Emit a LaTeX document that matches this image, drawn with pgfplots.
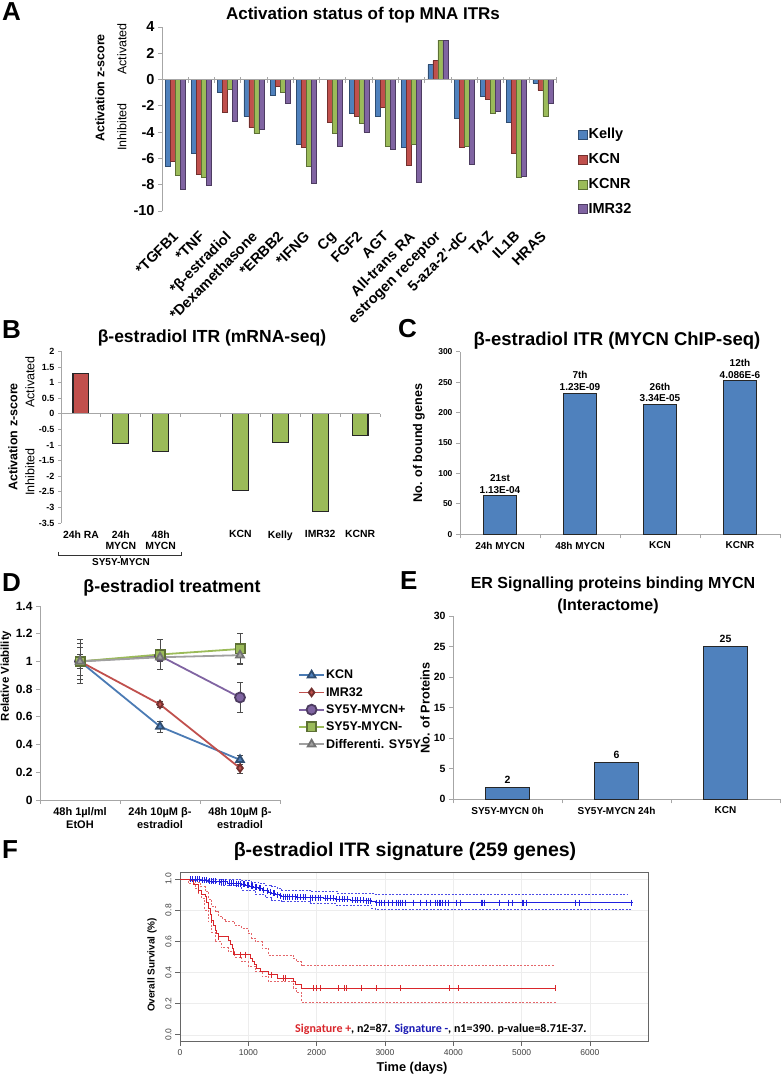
\documentclass[border=0pt]{standalone}
\usepackage{pgfplots}
\usepackage{pgfplotstable}
\pgfplotsset{compat=1.18}
\usepackage{fontspec}
\setmainfont{Liberation Sans}
\newfontfamily\calib{Carlito}
\definecolor{kelly}{HTML}{4F81BD}
\definecolor{kcn}{HTML}{C0504D}
\definecolor{kcnr}{HTML}{9BBB59}
\definecolor{imr}{HTML}{8064A2}
\definecolor{axg}{HTML}{A6A6A6}
\definecolor{dgray}{HTML}{A0A0A0}
\definecolor{kmred}{HTML}{D9262B}
\definecolor{kmblue}{HTML}{2020E0}
\newcommand\fs[1]{\fontsize{#1}{#1}\selectfont}
\pgfplotsset{/pgf/number format/assume math mode=true, /pgf/number format/1000 sep={},
  xl/.style={scale only axis, anchor=south west, clip=false,
    axis line style={draw=axg, line width=0.8pt},
    tick style={draw=axg, line width=0.8pt},
    tick align=outside, major tick length=4pt, minor tick length=4pt,
    axis y line*=left, axis x line*=bottom},
  exbar/.style={draw=black!85, line width=1.1pt, bar shift=0pt},
  dline/.style={line width=1.8pt, mark options={line width=0.6pt},
    error bars/y dir=both, error bars/y explicit,
    error bars/error bar style={black!70, line width=0.6pt},
    error bars/error mark options={rotate=90, black!70, mark size=3pt, line width=0.6pt}}}

% panel A: activation z-scores
\pgfplotstableread{
x   kelly  kcn   kcnr  imr
0  -6.57 -6.20 -7.30 -8.36
1  -5.58 -7.17 -7.40 -8.03
2  -0.96 -2.50 -0.70 -3.18
3  -2.80 -3.66 -4.07 -3.81
4  -1.16 -0.53 -0.96 -1.79
5  -4.90 -5.18 -6.60 -7.90
6   0.00 -3.26 -4.07 -5.05
7  -2.60 -2.78 -3.36 -3.99
8  -2.78 -2.10 -5.05 -5.28
9  -5.18 -6.50 -4.95 -7.78
10  1.14  1.44  3.00  3.00
11 -2.98 -5.15 -5.08 -6.44
12 -1.26 -1.52 -2.60 -2.42
13 -3.23 -5.60 -7.42 -7.37
14 -0.25 -0.83 -2.80 -1.77
}\dataA

% panel F: Kaplan-Meier steps (days, survival)
\pgfplotstableread{
t s
0 1
150 0.988
200 0.965
268 0.93
320 0.90
366 0.887
390 0.85
415 0.812
440 0.775
464 0.737
490 0.70
512 0.673
540 0.65
561 0.63
708 0.607
732 0.577
760 0.553
781 0.53
800 0.515
1030 0.49
1060 0.47
1090 0.45
1122 0.427
1171 0.406
1293 0.385
1420 0.363
1659 0.345
1684 0.325
1781 0.30
5500 0.30
}\redkm
\pgfplotstableread{
t s
0 1
120 0.99
220 0.98
300 0.95
366 0.92
420 0.87
464 0.823
520 0.79
561 0.76
620 0.74
659 0.726
800 0.70
903 0.684
1000 0.65
1050 0.62
1098 0.598
1200 0.555
1293 0.513
1659 0.49
1700 0.47
1781 0.444
5480 0.444
}\redup
\pgfplotstableread{
t s
0 1
122 0.97
220 0.94
270 0.91
317 0.876
360 0.80
415 0.726
460 0.66
512 0.598
600 0.56
708 0.534
800 0.50
903 0.47
1000 0.44
1098 0.406
1200 0.375
1293 0.342
1659 0.30
1700 0.27
1781 0.21
5500 0.21
}\redlo
\pgfplotstableread{
t s
0 1
150 0.997
300 0.993
415 0.987
550 0.982
700 0.975
800 0.97
903 0.966
960 0.96
1020 0.955
1080 0.948
1146 0.94
1200 0.93
1250 0.925
1300 0.915
1342 0.908
1400 0.898
1450 0.892
1488 0.887
1700 0.883
1879 0.88
2100 0.875
2270 0.87
2500 0.865
2700 0.862
2806 0.859
2855 0.848
6632 0.848
}\bluekm
\pgfplotstableread{
t s
0 1
600 0.997
900 0.99
1050 0.982
1150 0.972
1250 0.962
1342 0.951
1420 0.94
1488 0.93
1900 0.92
2300 0.91
2850 0.902
6550 0.902
}\blueup
\pgfplotstableread{
t s
0 1
200 0.99
400 0.98
600 0.962
903 0.929
1100 0.90
1250 0.88
1342 0.865
1488 0.855
1900 0.845
2270 0.833
2806 0.812
2855 0.805
6600 0.805
}\bluelo

\begin{document}
\begin{tikzpicture}
\useasboundingbox (0,0) rectangle (781pt,1075pt);

% ---------------- A
\begin{axis}[xl, at={(162pt,864pt)}, width=394pt, height=184pt,
  xmin=-0.5, xmax=14.5, ymin=-10, ymax=4, ytick={-10,-8,...,4},
  x axis line style={draw=none}, major x tick style={draw=none},
  xtick={0,...,14},
  xticklabels={*TGFB1,*TNF,*β-estradiol,*Dexamethasone,*ERBB2,*IFNG,Cg,FGF2,AGT,All-trans RA,estrogen receptor,5-aza-2'-dC,TAZ,IL1B,HRAS},
  xticklabel style={rotate=45, anchor=north east, font=\bfseries\fs{14.5}, inner sep=0pt, xshift=-13pt, yshift=-8.5pt},
  yticklabel style={font=\bfseries\fs{14.5}},
  ybar=0pt, bar width=0.19,
  legend style={draw=none, fill=none, at={(1.048,0.467)}, anchor=north west,
    font=\bfseries\fs{14.5}, row sep=11.3pt, nodes={inner sep=1pt}},
  legend cell align=left,
  legend image code/.code={\draw[#1] (0pt,-4.5pt) rectangle (9pt,4.5pt);}]
\addplot[fill=kelly, draw=kelly!60!black, line width=0.5pt] table[x=x,y=kelly]{\dataA};
\addplot[fill=kcn, draw=kcn!60!black, line width=0.5pt] table[x=x,y=kcn]{\dataA};
\addplot[fill=kcnr, draw=kcnr!60!black, line width=0.5pt] table[x=x,y=kcnr]{\dataA};
\addplot[fill=imr, draw=imr!60!black, line width=0.5pt] table[x=x,y=imr]{\dataA};
\legend{Kelly,KCN,KCNR,IMR32}
\draw[axg, line width=0.8pt] (axis cs:-0.5,0) -- (axis cs:14.5,0);
\pgfplotsinvokeforeach{-0.5,0.5,...,14.5}{\draw[axg, line width=0.8pt] (axis cs:#1,0) ++(0pt,-3pt) -- ++(0pt,6pt);}
\end{axis}

% ---------------- B
\begin{axis}[xl, at={(61pt,552pt)}, width=319pt, height=171.6pt,
  xmin=-0.5, xmax=7.5, ymin=-3.5, ymax=2, ytick={-3.5,-3,...,2},
  x axis line style={draw=none}, major x tick style={draw=none},
  xtick={0,...,7}, xticklabels={24h RA,{24h\\MYCN},{48h\\MYCN},{},KCN,Kelly,IMR32,KCNR},
  xticklabel style={align=center, font=\bfseries\fontsize{10.4}{11}\selectfont, anchor=north, yshift=-1pt},
  yticklabel style={font=\bfseries\fs{9}}, major tick length=3pt,
  ybar, bar width=0.4]
\addplot[fill=kcn, exbar] coordinates {(0,1.28)};
\addplot[fill=kcnr, exbar] coordinates {(1,-0.96) (2,-1.21) (4,-2.46) (5,-0.91) (6,-3.12) (7,-0.70)};
\draw[axg, line width=0.8pt] (axis cs:-0.5,0) -- (axis cs:7.5,0);
\pgfplotsinvokeforeach{-0.5,0.5,...,7.5}{\draw[axg, line width=0.8pt] (axis cs:#1,0) -- ++(0pt,-3pt);}
\end{axis}

% ---------------- C
\begin{axis}[xl, at={(460pt,540.7pt)}, width=320pt, height=182.6pt,
  xmin=-0.5, xmax=3.5, ymin=0, ymax=300, ytick={0,50,...,300},
  xtick={0,...,3}, xticklabels={24h MYCN,48h MYCN,KCN,KCNR}, major x tick style={draw=none},
  minor xtick={-0.5,0.5,...,3.5},
  xticklabel style={font=\bfseries\fs{10}},
  yticklabel style={font=\bfseries\fs{8.5}},
  ybar, bar width=0.41,
  nodes near coords, point meta=explicit symbolic,
  every node near coord/.append style={align=center, font=\bfseries\fontsize{10}{11.5}\selectfont, inner sep=2pt}]
\addplot[fill=kelly, exbar] coordinates {(0,63) [{21st\\1.13E-04}] (1,232) [{7th\\1.23E-09}] (2,213) [{26th\\3.34E-05}] (3,252) [{12th\\4.086E-6}]};
\end{axis}

% ---------------- D
\begin{axis}[xl, at={(40pt,275pt)}, width=240pt, height=194pt,
  xmin=-0.5, xmax=2.5, ymin=0, ymax=1.4, ytick={0,0.2,...,1.4},
  xtick={0,1,2}, xticklabels={{48h 1µl/ml\\EtOH},{24h 10µM β-\\estradiol},{48h 10µM β-\\estradiol}},
  major x tick style={draw=none}, minor xtick={-0.5,0.5,1.5,2.5},
  xticklabel style={align=center, font=\bfseries\fontsize{11}{12.5}\selectfont},
  yticklabel style={font=\bfseries\fs{12}},
  legend style={draw=none, fill=none, at={(1.0625,0.686)}, anchor=north west,
    font=\bfseries\fs{12.5}, row sep=5pt, nodes={inner sep=1pt}},
  legend cell align=left,
  legend image code/.code={\draw[mark repeat=2,mark phase=2,#1] plot coordinates {(0pt,0pt) (12.5pt,0pt) (25pt,0pt)};}]
\addplot[dline, color=kelly!95!black, mark=triangle*, mark size=4.5pt, mark options={fill=kelly, draw=kelly!60!black}]
  coordinates {(0,1) +- (0,0.05) (1,0.53) +- (0,0.04) (2,0.29) +- (0,0.035)};
\addplot[dline, color=kcn, mark=diamond*, mark size=3.8pt, mark options={fill=kcn, draw=kcn!60!black}]
  coordinates {(0,1) +- (0,0.03) (1,0.69) +- (0,0.02) (2,0.23) +- (0,0.04)};
\addplot[dline, color=imr, mark=*, mark size=5pt, mark options={fill=imr, draw=imr!60!black}]
  coordinates {(0,1) +- (0,0.10) (1,1.04) +- (0,0.03) (2,0.74) +- (0,0.11)};
\addplot[dline, color=kcnr, mark=square*, mark size=4.6pt, mark options={fill=kcnr, draw=kcnr!60!black}]
  coordinates {(0,1) +- (0,0.16) (1,1.05) +- (0,0.11) (2,1.09) +- (0,0.11)};
\addplot[dline, color=dgray, mark=triangle*, mark size=4.5pt, mark options={fill=dgray, draw=black!55}]
  coordinates {(0,1) +- (0,0.13) (1,1.03) +- (0,0.03) (2,1.045) +- (0,0.06)};
\legend{KCN,IMR32,SY5Y-MYCN+,SY5Y-MYCN-,Differenti. SY5Y}
\end{axis}

% ---------------- E
\begin{axis}[xl, at={(453pt,275.7pt)}, width=327pt, height=183.3pt,
  xmin=-0.5, xmax=2.5, ymin=0, ymax=30, ytick={0,5,...,30},
  xtick={0,1,2}, xticklabels={SY5Y-MYCN 0h,SY5Y-MYCN 24h,KCN}, major x tick style={draw=none},
  minor xtick={-0.5,0.5,1.5,2.5},
  xticklabel style={font=\bfseries\fs{10}},
  yticklabel style={font=\bfseries\fs{10.5}},
  ybar, bar width=0.4,
  nodes near coords, every node near coord/.append style={font=\bfseries\fs{10.5}, inner sep=3pt}]
\addplot[fill=kelly, exbar] coordinates {(0,2) (1,6) (2,25)};
\end{axis}

% ---------------- F
\begin{axis}[scale only axis, anchor=south west, at={(180pt,34pt)}, width=468pt, height=169pt,
  xmin=0, xmax=6850, ymin=-0.04, ymax=1.045,
  xtick={0,1000,...,6000}, ytick={0,0.2,...,1}, scaled x ticks=false,
  xtick pos=bottom, ytick pos=left,
  axis line style={draw=black!60, line width=0.9pt},
  tick align=outside, tick style={draw=black!60, line width=0.7pt}, major tick length=5pt,
  grid=major, grid style={black!7, line width=0.5pt},
  xticklabel style={font=\fs{8.5}, text=black!75},
  yticklabel style={rotate=90, anchor=south, font=\fs{8.5}, text=black!75,
    /pgf/number format/.cd, fixed, fixed zerofill, precision=1}]
\addplot[const plot, kmblue!80, dash pattern=on 2pt off 1.5pt, line width=0.6pt] table[x=t,y=s]{\blueup};
\addplot[const plot, kmblue!80, dash pattern=on 2pt off 1.5pt, line width=0.6pt] table[x=t,y=s]{\bluelo};
\addplot[const plot, kmblue, line width=0.8pt] table[x=t,y=s]{\bluekm};
\addplot[only marks, kmblue, mark=|, mark size=3pt, mark options={draw=kmblue, line width=0.5pt}] coordinates {
(150,0.997)(180,0.997)(220,0.997)(250,0.997)(280,0.997)(320,0.993)(350,0.993)(380,0.993)
(430,0.987)(460,0.987)(490,0.987)(520,0.987)(570,0.982)(600,0.982)(630,0.982)(660,0.982)
(720,0.975)(750,0.975)(780,0.975)(820,0.97)(850,0.97)(880,0.97)(920,0.966)(940,0.966)
(980,0.96)(1000,0.96)(1040,0.955)(1060,0.955)(1100,0.948)(1120,0.948)(1160,0.94)(1180,0.94)
(1220,0.93)(1270,0.925)(1320,0.915)(1360,0.908)(1380,0.908)(1420,0.898)(1470,0.892)
(1510,0.887)(1540,0.887)(1570,0.887)(1600,0.887)(1640,0.887)(1680,0.887)(1720,0.883)
(1760,0.883)(1800,0.883)(1840,0.883)(1900,0.88)(1940,0.88)(1980,0.88)(2020,0.88)(2060,0.88)
(2120,0.875)(2160,0.875)(2200,0.875)(2240,0.875)(2290,0.87)(2330,0.87)(2370,0.87)(2410,0.87)
(2450,0.87)(2520,0.865)(2560,0.865)(2600,0.865)(2640,0.865)(2680,0.865)(2720,0.862)
(2760,0.862)(2780,0.862)(2870,0.848)(2910,0.848)(2950,0.848)(2990,0.848)(3050,0.848)
(3100,0.848)(3172,0.848)(3200,0.848)(3230,0.848)(3260,0.848)(3294,0.848)(3416,0.848)
(3514,0.848)(3611,0.848)(3660,0.848)(3734,0.848)(3760,0.848)(3790,0.848)(3815,0.848)
(3840,0.848)(3880,0.848)(3928,0.848)(4050,0.848)(4099,0.848)(4407,0.848)(4430,0.848)
(4450,0.848)(4670,0.848)(4807,0.848)(4856,0.848)(5003,0.848)(5030,0.848)(5061,0.848)
(5783,0.848)(5847,0.848)(6603,0.848)};
\addplot[const plot, kmred!70, dash pattern=on 2pt off 1.5pt, line width=0.6pt] table[x=t,y=s]{\redup};
\addplot[const plot, kmred!70, dash pattern=on 2pt off 1.5pt, line width=0.6pt] table[x=t,y=s]{\redlo};
\addplot[const plot, kmred, line width=0.8pt] table[x=t,y=s]{\redkm};
\addplot[only marks, kmred, mark=|, mark size=3pt, mark options={draw=kmred, line width=0.6pt}] coordinates {
(268,0.93)(464,0.737)(561,0.63)(781,0.53)(878,0.515)(952,0.515)(1342,0.385)(1512,0.363)
(1537,0.363)(1952,0.3)(2000,0.3)(2050,0.3)(2318,0.3)(2406,0.3)(2440,0.3)(2660,0.3)(2880,0.3)
(3221,0.3)(3938,0.3)(4075,0.3)(5500,0.3)};
\end{axis}

% ---------------- letters, titles, labels
\begin{scope}[every node/.style={inner sep=0pt}]
\node[anchor=north west, font=\bfseries\fs{26}] at (2pt,1073pt) {A};
\node[anchor=north west, font=\bfseries\fs{26}] at (2pt,755pt) {B};
\node[anchor=north west, font=\bfseries\fs{26}] at (398pt,756pt) {C};
\node[anchor=north west, font=\bfseries\fs{26}] at (2pt,502pt) {D};
\node[anchor=north west, font=\bfseries\fs{26}] at (400pt,504pt) {E};
\node[anchor=north west, font=\bfseries\fs{26}] at (2pt,235pt) {F};

\node[anchor=base, font=\bfseries\fs{17}] at (363pt,1055pt) {Activation status of top MNA ITRs};
\node[anchor=base, font=\bfseries\fs{17.5}] at (212pt,732pt) {β-estradiol ITR (mRNA-seq)};
\node[anchor=base, font=\bfseries\fs{18.5}] at (617pt,729pt) {β-estradiol ITR (MYCN ChIP-seq)};
\node[anchor=base, font=\bfseries\fs{17.8}] at (172pt,482pt) {β-estradiol treatment};
\node[anchor=base, font=\bfseries\fs{16}] at (613pt,486pt) {ER Signalling proteins binding MYCN};
\node[anchor=base, font=\bfseries\fs{16}] at (608pt,464pt) {(Interactome)};
\node[anchor=base, font=\bfseries\fs{19.5}] at (405pt,218pt) {β-estradiol ITR signature (259 genes)};

\node[rotate=90, font=\bfseries\fs{12.5}] at (100pt,987pt) {Activation z-score};
\node[rotate=90, font=\fs{12.5}] at (122pt,1026pt) {Activated};
\node[rotate=90, font=\fs{12.5}] at (122pt,948pt) {Inhibited};
\node[rotate=90, font=\bfseries\fs{12.5}] at (13pt,638pt) {Activation z-score};
\node[rotate=90, font=\fs{12.5}] at (30pt,693pt) {Activated};
\node[rotate=90, font=\fs{12.5}] at (30pt,603pt) {Inhibited};
\node[rotate=90, font=\bfseries\fs{12.6}] at (419pt,632pt) {No. of bound genes};
\node[rotate=90, font=\bfseries\fs{11.4}] at (6pt,399pt) {Relative Viability};
\node[rotate=90, font=\bfseries\fs{12.7}] at (425pt,367pt) {No. of Proteins};
\node[rotate=90, font=\bfseries\fs{10}] at (152pt,110pt) {Overall Survival (\%)};
\node[font=\bfseries\fs{12.8}] at (412pt,7pt) {Time (days)};
\node[anchor=base west, font=\calib\bfseries\fs{12}] at (295pt,42pt)
  {\textcolor{kmred}{Signature +}, n2=87. \textcolor{kmblue!80!black}{Signature -}, n1=390. p-value=8.71E-37.};

\draw[black!80, line width=0.7pt] (58pt,523pt) -- (58pt,520pt) -- (181pt,520pt) -- (181pt,523pt);
\draw[black!80, line width=0.7pt] (120pt,520pt) -- (120pt,517pt);
\node[anchor=base, font=\bfseries\fs{10}] at (121pt,509pt) {SY5Y-MYCN};
\end{scope}
\end{tikzpicture}
\end{document}
